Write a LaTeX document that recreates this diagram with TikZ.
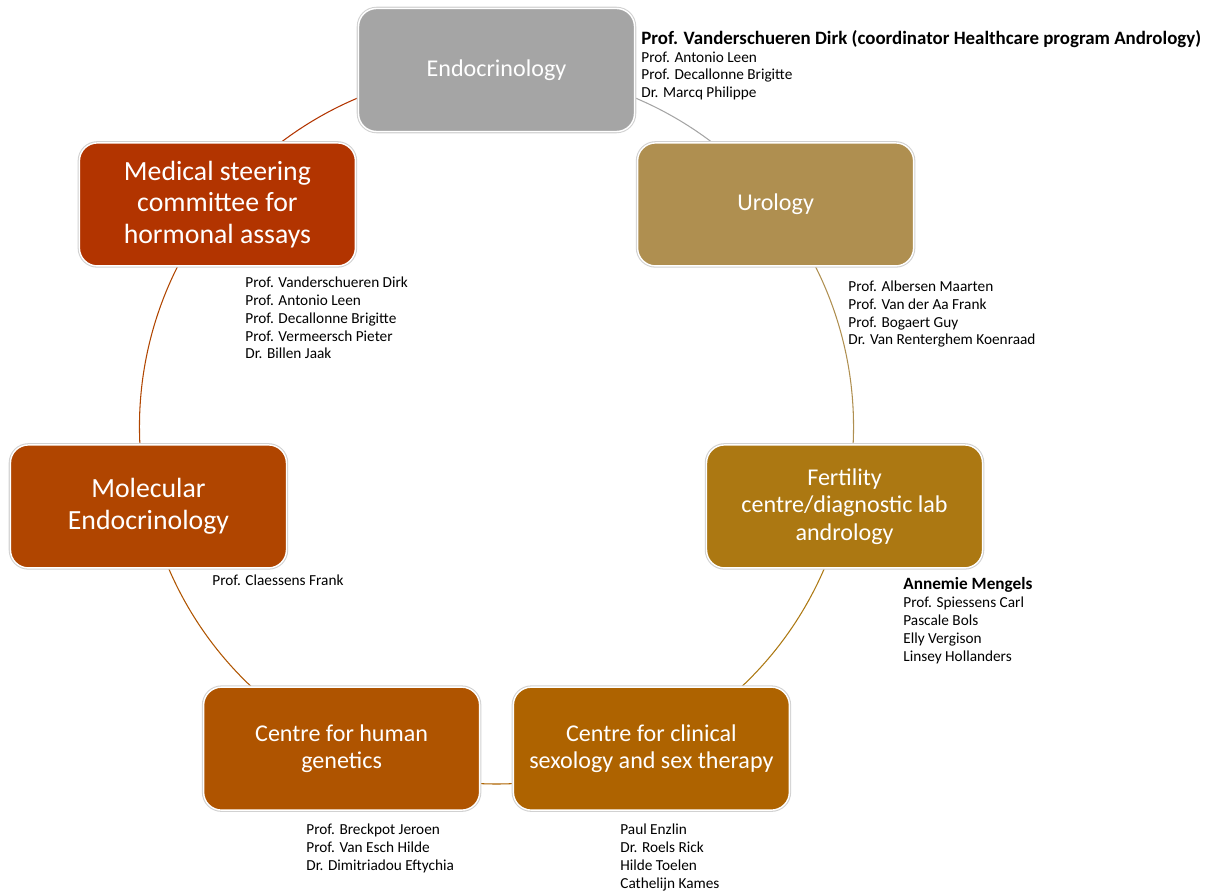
\documentclass[tikz,border=0pt]{standalone}
\usepackage{fontspec}
\setmainfont{Carlito}
\usepackage{tikz}
\usetikzlibrary{positioning, backgrounds}

\definecolor{endocol}{HTML}{A5A5A5}
\definecolor{urocol}{HTML}{AF8F50}
\definecolor{fertcol}{HTML}{AC7812}
\definecolor{sexcol}{HTML}{AE6300}
\definecolor{genecol}{HTML}{AF5400}
\definecolor{molcol}{HTML}{B04500}
\definecolor{medcol}{HTML}{B23400}

\tikzset{
  unit/.style={rectangle, rounded corners=0.36cm, minimum width=5.52cm, minimum height=2.46cm,
    inner sep=0pt, align=center, text=white, draw=white, line width=0.8pt,
    preaction={draw=black!18, line width=2pt}, font=\fontsize{13.7}{15.7}\selectfont},
  bigunit/.style={unit, font=\fontsize{15.8}{17.9}\selectfont},
  staff/.style={anchor=base west, inner sep=0pt, align=left, font=\fontsize{8.7}{10.24}\selectfont},
  ring/.style={line width=0.6pt, bend left=25.71, looseness=0.9},
}

\begin{document}
\begin{tikzpicture}
\useasboundingbox (0,0) rectangle (24.3,-17.82);
\coordinate (hub) at (9.93,-8.54);

\node[unit, fill=endocol] (endo) at ([shift={(90:7.14)}]hub) {Endocrinology};
\node[unit, fill=urocol] (uro) at ([shift={(38.571:7.14)}]hub) {Urology};
\node[unit, fill=fertcol] (fert) at ([shift={(-12.857:7.14)}]hub) {Fertility\\centre/diagnostic lab\\andrology};
\node[unit, fill=sexcol] (sex) at ([shift={(-64.286:7.14)}]hub) {Centre for clinical\\sexology and sex therapy};
\node[unit, fill=genecol] (gene) at ([shift={(-115.714:7.14)}]hub) {Centre for human\\genetics};
\node[bigunit, fill=molcol] (mol) at ([shift={(-167.143:7.14)}]hub) {Molecular\\Endocrinology};
\node[bigunit, fill=medcol] (med) at ([shift={(141.429:7.14)}]hub) {Medical steering\\committee for\\hormonal assays};

\begin{scope}[on background layer]
\draw[ring, endocol] (endo.center) to (uro.center);
\draw[ring, urocol] (uro.center) to (fert.center);
\draw[ring, fertcol] (fert.center) to (sex.center);
\draw[ring, sexcol] (sex.center) to (gene.center);
\draw[ring, genecol] (gene.center) to (mol.center);
\draw[ring, molcol] (mol.center) to (med.center);
\draw[ring, medcol] (med.center) to (endo.center);
\end{scope}

\node[staff] (endonames) at (12.82,-1.96) {{\fontsize{10.75}{11}\selectfont\bfseries Prof. Vanderschueren Dirk (coordinator Healthcare program Andrology)}\\Prof. Antonio Leen\\Prof. Decallonne Brigitte\\Dr. Marcq Philippe};
\node[staff] (uronames) at (16.96,-6.90) {Prof. Albersen Maarten\\Prof. Van der Aa Frank\\Prof. Bogaert Guy\\Dr. Van Renterghem Koenraad};
\node[staff] (fertnames) at (18.06,-13.22) {{\fontsize{9.8}{10.24}\selectfont\bfseries Annemie Mengels}\\Prof. Spiessens Carl\\Pascale Bols\\Elly Vergison\\Linsey Hollanders};
\node[staff] (sexnames) at (12.40,-17.76) {Paul Enzlin\\Dr. Roels Rick\\Hilde Toelen\\Cathelijn Kames};
\node[staff] (genenames) at (6.12,-17.40) {Prof. Breckpot Jeroen\\Prof. Van Esch Hilde\\Dr. Dimitriadou Eftychia};
\node[staff] (molnames) at (4.24,-11.72) {Prof. Claessens Frank};
\node[staff] (mednames) at (4.90,-7.18) {Prof. Vanderschueren Dirk\\Prof. Antonio Leen\\Prof. Decallonne Brigitte\\Prof. Vermeersch Pieter\\Dr. Billen Jaak};
\end{tikzpicture}
\end{document}
